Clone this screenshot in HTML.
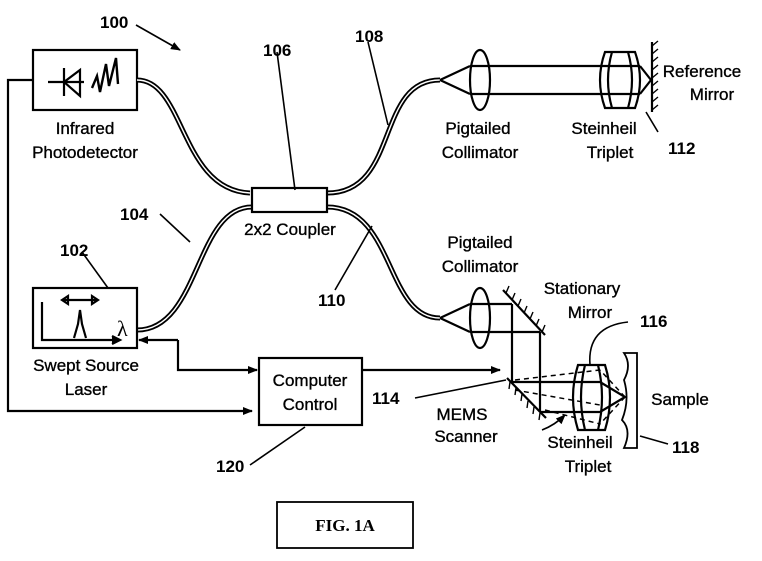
<!DOCTYPE html><html><head><style>body{margin:0;background:#fff}svg{display:block}text{font-family:"Liberation Sans",Arial,sans-serif;fill:#000}.l{font-size:17px;text-anchor:middle;stroke:#000;stroke-width:0.35}.n{font-size:17px;font-weight:bold}</style></head><body>
<svg width="762" height="561" viewBox="0 0 762 561" xmlns="http://www.w3.org/2000/svg">
<defs><marker id="a" markerWidth="10" markerHeight="8" refX="9" refY="4" orient="auto" markerUnits="userSpaceOnUse"><path d="M0,0 L10,4 L0,8z" fill="#000"/></marker></defs>
<g fill="none" stroke="#000" stroke-width="2.2">
<rect x="33" y="50" width="104" height="60"/>
<path d="M48 82 H84 M64 68 V96 M64 82 L80 70 V96 Z"/>
<path d="M92 88 L97 76 L100 92 L106 64 L109 86 L116 58 L118 84" stroke-width="2.4"/>
<path d="M33 80 H8 V411 H252" marker-end="url(#a)"/>
<g stroke-width="5"><path d="M137 80 C185 80 180 190 250 193"/><path d="M327 193 C400 193 375 80 440 80"/><path d="M252 207 C195 207 200 330 137 330"/><path d="M327 207 C395 207 385 318 440 318"/></g>
<g stroke="#fff" stroke-width="1.4"><path d="M137 80 C185 80 180 190 250 193"/><path d="M327 193 C400 193 375 80 440 80"/><path d="M252 207 C195 207 200 330 137 330"/><path d="M327 207 C395 207 385 318 440 318"/></g>
<rect x="252" y="188" width="75" height="24" fill="#fff"/>
<rect x="33" y="288" width="104" height="60"/>
<path d="M42 302 V340 H118" /><path d="M112 336 L120 340 L112 344" fill="#000"/>
<path d="M62 300 H98 M62 300 l6 -4 v8z M98 300 l-6 -4 v8z"/>
<path d="M74 338 L78 324 L80 310 L82 324 L86 338"/>
<path d="M178 340 H139" marker-end="url(#a)"/>
<path d="M178 340 V370 H257" marker-end="url(#a)"/>
<rect x="259" y="358" width="103" height="67"/>
<path d="M362 370 H500" marker-end="url(#a)"/>
<path d="M440 80 L470 66 M440 80 L470 94 M470 66 H640 M470 94 H640 M640 66 L651 80 L640 94"/>
<ellipse cx="480" cy="80" rx="10" ry="30"/>
<path d="M605 52 H635 Q645 80 635 108 H605 Q595 80 605 52 Z M612 52 Q604 80 612 108 M628 52 Q636 80 628 108"/>
<path d="M652 42 V112"/>
<path d="M652 46 l6 -5 M652 54 l6 -5 M652 62 l6 -5 M652 70 l6 -5 M652 78 l6 -5 M652 86 l6 -5 M652 94 l6 -5 M652 102 l6 -5 M652 110 l6 -5" stroke-width="1.4"/>
<path d="M440 318 L470 304 M440 318 L470 332 M470 304 H512 M470 332 H540 M512 304 V382 M540 332 V412"/>
<ellipse cx="480" cy="318" rx="10" ry="30"/>
<path d="M503 290 L545 335"/>
<path d="M506 293 l3 -7 M512 300 l3 -7 M518 306 l3 -7 M524 313 l3 -7 M530 319 l3 -7 M536 326 l3 -7 M542 332 l3 -7" stroke-width="1.4"/>
<path d="M507 378 L546 418"/>
<path d="M510 382 l-1 7 M516 388 l-1 7 M522 394 l-1 7 M528 401 l-1 7 M534 407 l-1 7 M540 413 l-1 7" stroke-width="1.4"/>
<path d="M512 382 H600 M540 412 H600 M600 382 L625 397 L600 412"/>
<path d="M515 380 L600 370 M515 390 L600 405 M545 410 L600 424 M625 397 L600 370 M625 397 L600 424" stroke-dasharray="5 4" stroke-width="1.5"/>
<path d="M578 365 H605 Q615 397 605 430 H578 Q568 397 578 365 Z M585 365 Q577 397 585 430 M598 365 Q606 397 598 430"/>
<path d="M590 365 C588 340 600 325 628 322" stroke-width="1.6"/>
<path d="M624 353 H637 V448 H624 Q632 430 622 420 Q630 400 624 380 Q632 365 624 353 Z" stroke-width="1.8"/>
<path d="M542 430 Q555 425 565 415" marker-end="url(#a)" stroke-width="1.6"/>
<g stroke-width="1.6"><path d="M136 25 L180 50" marker-end="url(#a)"/><path d="M277 52 L295 190"/><path d="M368 42 L388 125"/><path d="M160 214 L190 242"/><path d="M82 252 L108 288"/><path d="M335 290 L372 226"/><path d="M658 132 L646 112"/><path d="M415 398 L506 380"/><path d="M640 436 L668 444"/><path d="M250 465 L305 427"/></g>
<rect x="277" y="502" width="136" height="46" stroke-width="1.8"/>
</g>
<text class="n" x="100" y="28">100</text>
<text class="n" x="263" y="56">106</text>
<text class="n" x="355" y="42">108</text>
<text class="n" x="120" y="220">104</text>
<text class="n" x="60" y="256">102</text>
<text class="n" x="318" y="306">110</text>
<text class="n" x="668" y="154">112</text>
<text class="n" x="372" y="404">114</text>
<text class="n" x="640" y="327">116</text>
<text class="n" x="672" y="453">118</text>
<text class="n" x="216" y="472">120</text>
<text class="l" x="85" y="134">Infrared</text>
<text class="l" x="85" y="158">Photodetector</text>
<text class="l" x="290" y="235">2x2 Coupler</text>
<text class="l" x="86" y="371">Swept Source</text>
<text class="l" x="86" y="395">Laser</text>
<text class="l" x="310" y="386">Computer</text>
<text class="l" x="310" y="410">Control</text>
<text class="l" x="478" y="134">Pigtailed</text>
<text class="l" x="480" y="158">Collimator</text>
<text class="l" x="604" y="134">Steinheil</text>
<text class="l" x="610" y="158">Triplet</text>
<text class="l" x="702" y="77">Reference</text>
<text class="l" x="712" y="100">Mirror</text>
<text class="l" x="480" y="248">Pigtailed</text>
<text class="l" x="480" y="272">Collimator</text>
<text class="l" x="582" y="294">Stationary</text>
<text class="l" x="590" y="318">Mirror</text>
<text class="l" x="462" y="420">MEMS</text>
<text class="l" x="466" y="442">Scanner</text>
<text class="l" x="580" y="448">Steinheil</text>
<text class="l" x="588" y="472">Triplet</text>
<text class="l" x="680" y="405">Sample</text>
<text x="345" y="531" style="font-family:'Liberation Serif',serif;font-weight:bold;font-size:17px;text-anchor:middle">FIG. 1A</text>
<text x="117" y="336" style="font-family:'Liberation Serif',serif;font-size:22px">λ</text>
</svg></body></html>
